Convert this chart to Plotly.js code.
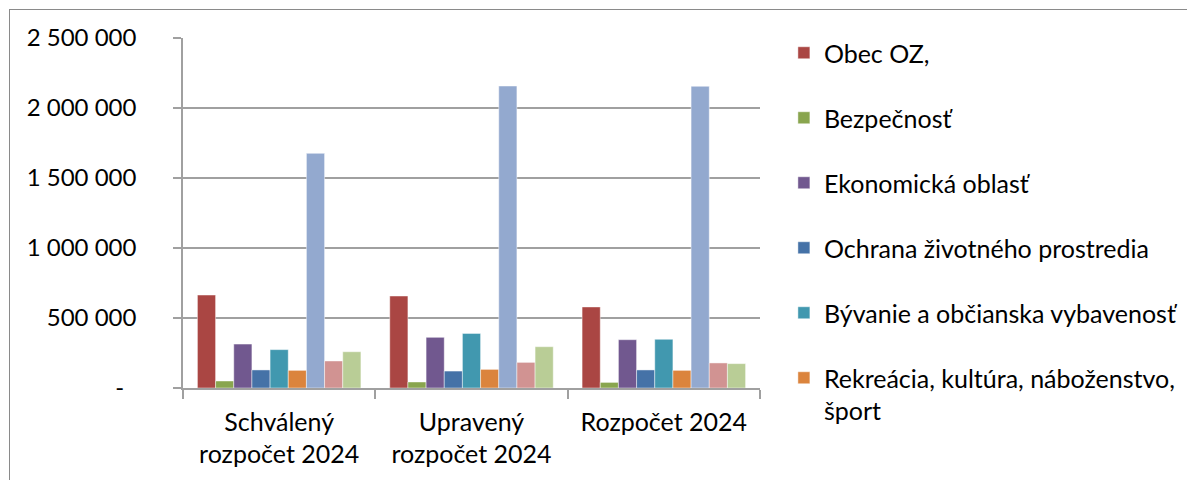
<!DOCTYPE html>
<html>
<head>
<meta charset="utf-8">
<script src="https://cdn.plot.ly/plotly-3.0.1.min.js"></script>
<style>
  html, body { margin: 0; padding: 0; background: #fff; }
  #wrap { position: relative; width: 1187px; height: 480px; overflow: hidden; }
  #chart { position: absolute; left: 0; top: 0; width: 1187px; height: 480px; }
  #frame { position: absolute; left: 9px; top: 9px; width: 1200px; height: 500px;
           border-left: 1.5px solid #8a8a8a; border-top: 1.5px solid #8a8a8a; pointer-events: none; }
</style>
</head>
<body>
<div id="wrap">
  <div id="chart"></div>
  <div id="frame"></div>
</div>
<script>
// Categories (x axis)
const categories = ["Schválený<br>rozpočet 2024", "Upravený<br>rozpočet 2024", "Rozpočet 2024"];

// Series names
const seriesNames = [
  "Obec OZ,",
  "Bezpečnosť",
  "Ekonomická oblasť",
  "Ochrana životného prostredia",
  "Bývanie a občianska vybavenosť",
  "Rekreácia, kultúra, náboženstvo,<br>šport",
  "Vzdelávanie",
  "Sociálne zabezpečenie",
  "Ostatné"
];

// Series values
const obecOZ       = [664000, 657000, 579000];
const bezpecnost   = [50000, 43000, 40000];
const ekonomicka   = [314000, 362000, 345000];
const ochrana      = [129000, 121000, 129000];
const byvanie      = [274000, 390000, 348000];
const rekreacia    = [126000, 133000, 126000];
const vzdelavanie  = [1676000, 2157000, 2155000];
const socialne     = [193000, 183000, 179000];
const ostatne      = [259000, 295000, 174000];

// Y tick labels
const yTickVals = [0, 500000, 1000000, 1500000, 2000000, 2500000];
const yTickText = ["-\u00a0\u00a0", "500 000", "1 000 000", "1 500 000", "2 000 000", "2 500 000"];

const seriesValues = [obecOZ, bezpecnost, ekonomicka, ochrana, byvanie, rekreacia, vzdelavanie, socialne, ostatne];
const colors = ["#AA4643", "#89A54E", "#71588F", "#4572A7", "#4198AF", "#DB843D", "#93A9CF", "#D19392", "#B9CD96"];
const inLegend = [true, true, true, true, true, true, false, false, false];

const FONT = "Lato, 'Open Sans', sans-serif";

const traces = seriesValues.map((vals, i) => ({
  type: "bar",
  name: seriesNames[i],
  x: categories,
  y: vals,
  legendgroup: "g" + i,
  showlegend: inLegend[i],
  marker: { color: colors[i], line: { color: "rgba(255,255,255,0.45)", width: 1 } },
  hoverinfo: "name+y"
}));

const layout = {
  width: 1187,
  height: 480,
  margin: { l: 183, r: 427, t: 38, b: 92, autoexpand: false },
  paper_bgcolor: "rgba(0,0,0,0)",
  plot_bgcolor: "rgba(0,0,0,0)",
  barmode: "group",
  bargap: 0.15,
  bargroupgap: 0,
  font: { family: FONT, size: 25, color: "#000" },
  showlegend: true,
  legend: {
    xref: "container", yref: "container",
    x: 0.6604, xanchor: "left",
    y: 0.9375, yanchor: "top",
    tracegroupgap: 29.5,
    valign: "top",
    maxheight: 470,
    font: { family: FONT, size: 25, color: "#000" },
    bgcolor: "rgba(0,0,0,0)"
  },
  xaxis: {
    type: "category",
    showline: true, linecolor: "#a0a0a0", linewidth: 1.5,
    ticks: "outside", tickson: "boundaries", ticklen: 9, tickcolor: "#a0a0a0", tickwidth: 1.5,
    showgrid: false,
    tickfont: { family: FONT, size: 25, color: "#000" },
    ticklabelstandoff: 11
  },
  yaxis: {
    range: [0, 2500000],
    tickvals: yTickVals, ticktext: yTickText,
    showline: true, linecolor: "#a0a0a0", linewidth: 1.5,
    ticks: "outside", ticklen: 8, tickcolor: "#a0a0a0", tickwidth: 1.5,
    showgrid: true, gridcolor: "#a0a0a0", gridwidth: 1.5,
    zeroline: false,
    tickfont: { family: FONT, size: 24, color: "#000" },
    ticklabelstandoff: 32
  }
};

Plotly.newPlot("chart", traces, layout, { displayModeBar: false, staticPlot: false });
</script>
</body>
</html>
